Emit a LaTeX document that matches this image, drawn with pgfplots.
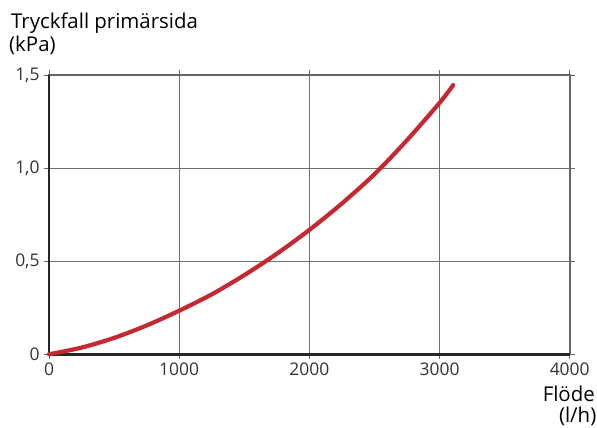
\documentclass[border=0pt]{standalone}
\usepackage{fontspec}
\setmainfont{Open Sans}
\usepackage{pgfplots}
\pgfplotsset{compat=1.18}
\definecolor{curve}{HTML}{C62832}
\definecolor{txt}{HTML}{333333}
\definecolor{frame}{HTML}{666666}
\definecolor{gridc}{HTML}{707070}
\begin{document}
\begin{tikzpicture}
\begin{axis}[
  scale only axis, width=520.7bp, height=279.3bp,
  xmin=0, xmax=4000, ymin=0, ymax=1.5,
  xtick={0,1000,2000,3000,4000}, xticklabels={0,1000,2000,3000,4000},
  ytick={0,0.5,1,1.5}, yticklabels={0,{0,5},{1,0},{1,5}},
  tick align=outside, major tick length=5bp,
  tick style={color=frame, line width=0.8bp},
  grid=major, grid style={color=gridc, line width=0.9bp},
  axis line style={color=frame, line width=1.8bp},
  ticklabel style={font=\fontsize{17.5}{20}\selectfont, text=txt},
  yticklabel style={xshift=-1bp},
  /pgf/number format/assume math mode=true,
  clip=false,
]
\coordinate (O) at (rel axis cs:0,0);
\draw[line width=2.6bp, color=black!85] (rel axis cs:0,1) -- (rel axis cs:0,0) -- (rel axis cs:1,0);
\addplot[color=curve, line width=4.2bp, line cap=round, smooth] coordinates {
(0,0) (250,0.036) (500,0.088) (750,0.155) (1000,0.234) (1250,0.322) (1500,0.425)
(1750,0.54) (2000,0.668) (2250,0.81) (2500,0.967) (2750,1.15) (3000,1.35) (3105,1.446)
};
\end{axis}
\path ([xshift=-49bp,yshift=-73.7bp]O) rectangle ([xshift=548bp,yshift=354.3bp]O);
\node[anchor=base west, inner sep=0pt, text=black, font=\fontsize{20.5}{24}\selectfont]
  at ([xshift=-38bp,yshift=326bp]O) {Tryckfall primärsida};
\node[anchor=base west, inner sep=0pt, text=black, font=\fontsize{20.5}{24}\selectfont]
  at ([xshift=-40bp,yshift=302.5bp]O) {(kPa)};
\node[anchor=base east, inner sep=0pt, text=black, font=\fontsize{20.5}{24}\selectfont]
  at ([xshift=546bp,yshift=-47.4bp]O) {Flöde};
\node[anchor=base east, inner sep=0pt, text=black, font=\fontsize{20.5}{24}\selectfont]
  at ([xshift=547.5bp,yshift=-68bp]O) {(l/h)};
\end{tikzpicture}
\end{document}
